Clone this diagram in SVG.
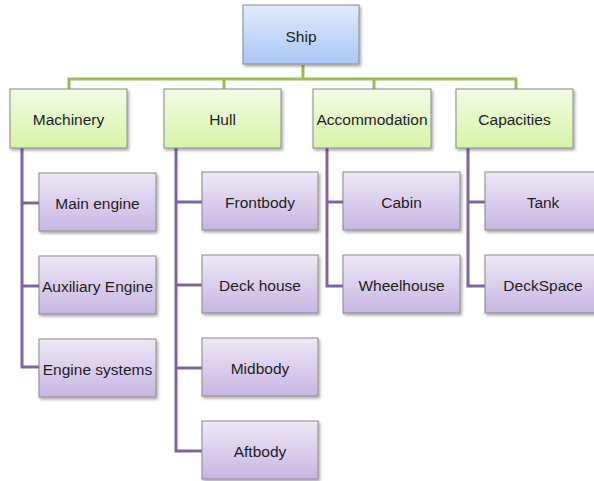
<svg xmlns="http://www.w3.org/2000/svg" width="594" height="481" viewBox="0 0 594 481">
  <defs>
    <linearGradient id="gBlue" x1="0" y1="0" x2="0" y2="1">
      <stop offset="0" stop-color="#e2ebfc"/>
      <stop offset="1" stop-color="#a9c6f6"/>
    </linearGradient>
    <linearGradient id="gGreen" x1="0" y1="0" x2="0" y2="1">
      <stop offset="0" stop-color="#f2fbe4"/>
      <stop offset="1" stop-color="#d6f3a9"/>
    </linearGradient>
    <linearGradient id="gPurple" x1="0" y1="0" x2="0" y2="1">
      <stop offset="0" stop-color="#eee8f6"/>
      <stop offset="1" stop-color="#c7b5e2"/>
    </linearGradient>
    <filter id="shadow" x="-10%" y="-10%" width="130%" height="140%">
      <feDropShadow dx="1.5" dy="2" stdDeviation="1.5" flood-color="#000" flood-opacity="0.35"/>
    </filter>
  </defs>
  <style>
    .box { stroke: #8a8a8a; stroke-width: 1; filter: url(#shadow); }
    .root { fill: url(#gBlue); }
    .cat { fill: url(#gGreen); }
    .item { fill: url(#gPurple); }
    .lbl { font-family: "Liberation Sans", Arial, sans-serif; font-size: 15.5px; fill: #1e1e1e; text-anchor: middle; dominant-baseline: central; }
    .lnkG { fill: none; stroke: #9bbb59; stroke-width: 3; }
    .lnkP { fill: none; stroke: #8064a2; stroke-width: 3; }
  </style>

  <!-- connectors -->
  <g id="connectors">
    <path class="lnkG" d="M303 65 V79 M69 89 V79 H516 V89 M224 79 V89 M374 79 V89"/>
    <path class="lnkP" d="M22 148 V367 H39 M22 203 H39 M22 286 H39"/>
    <path class="lnkP" d="M176 148 V451 H202 M176 202 H202 M176 285 H202 M176 368 H202"/>
    <path class="lnkP" d="M327 148 V286 H343 M327 202 H343"/>
    <path class="lnkP" d="M468 148 V286 H485 M468 202 H485"/>
  </g>

  <!-- root -->
  <g id="ship">
    <rect class="box root" x="243" y="5" width="116" height="59"/>
    <text class="lbl" x="301" y="36">Ship</text>
  </g>

  <!-- categories -->
  <g id="machinery">
    <rect class="box cat" x="10" y="89" width="117" height="59"/>
    <text class="lbl" x="68.5" y="119">Machinery</text>
  </g>
  <g id="hull">
    <rect class="box cat" x="164" y="89" width="117" height="59"/>
    <text class="lbl" x="222.5" y="119">Hull</text>
  </g>
  <g id="accommodation">
    <rect class="box cat" x="313" y="89" width="118" height="59"/>
    <text class="lbl" x="372" y="119">Accommodation</text>
  </g>
  <g id="capacities">
    <rect class="box cat" x="456" y="89" width="117" height="59"/>
    <text class="lbl" x="514.5" y="119">Capacities</text>
  </g>

  <!-- machinery items -->
  <g id="main-engine">
    <rect class="box item" x="39" y="173" width="117" height="58"/>
    <text class="lbl" x="97.5" y="203">Main engine</text>
  </g>
  <g id="auxiliary-engine">
    <rect class="box item" x="39" y="256" width="117" height="58"/>
    <text class="lbl" x="97.5" y="286">Auxiliary Engine</text>
  </g>
  <g id="engine-systems">
    <rect class="box item" x="39" y="339" width="117" height="58"/>
    <text class="lbl" x="97.5" y="369">Engine systems</text>
  </g>

  <!-- hull items -->
  <g id="frontbody">
    <rect class="box item" x="202" y="172" width="116" height="58"/>
    <text class="lbl" x="260" y="202">Frontbody</text>
  </g>
  <g id="deck-house">
    <rect class="box item" x="202" y="255" width="116" height="58"/>
    <text class="lbl" x="260" y="285">Deck house</text>
  </g>
  <g id="midbody">
    <rect class="box item" x="202" y="338" width="116" height="58"/>
    <text class="lbl" x="260" y="368">Midbody</text>
  </g>
  <g id="aftbody">
    <rect class="box item" x="202" y="421" width="116" height="58"/>
    <text class="lbl" x="260" y="451">Aftbody</text>
  </g>

  <!-- accommodation items -->
  <g id="cabin">
    <rect class="box item" x="343" y="172" width="117" height="58"/>
    <text class="lbl" x="401.5" y="202">Cabin</text>
  </g>
  <g id="wheelhouse">
    <rect class="box item" x="343" y="255" width="117" height="58"/>
    <text class="lbl" x="401.5" y="285">Wheelhouse</text>
  </g>

  <!-- capacities items -->
  <g id="tank">
    <rect class="box item" x="485" y="172" width="117" height="58"/>
    <text class="lbl" x="543" y="202">Tank</text>
  </g>
  <g id="deckspace">
    <rect class="box item" x="485" y="255" width="117" height="58"/>
    <text class="lbl" x="543" y="285">DeckSpace</text>
  </g>
</svg>
